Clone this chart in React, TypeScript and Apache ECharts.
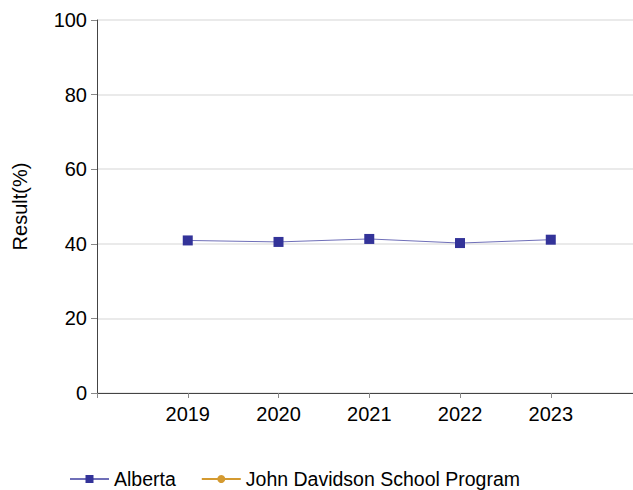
import React, { useEffect, useRef } from "react";
import * as echarts from "echarts";

const years = [2019, 2020, 2021, 2022, 2023];
const albertaValues = [40.9, 40.5, 41.3, 40.2, 41.1];
const schoolValues: (number | null)[] = [null, null, null, null, null];
const yTicks = [0, 20, 40, 60, 80, 100];

export default function App() {
  const ref = useRef<HTMLDivElement>(null);
  useEffect(() => {
    if (!ref.current) return;
    const chart = echarts.init(ref.current, undefined, { renderer: "svg" });
    const font = "Liberation Sans, Arial, sans-serif";
    chart.setOption({
      animation: false,
      textStyle: { fontFamily: font },
      grid: { left: 97, right: 0, top: 20, bottom: 97 },
      xAxis: {
        type: "value",
        min: 2018,
        max: 2023.906,
        interval: 1,
        splitLine: { show: false },
        axisLine: { lineStyle: { color: "#444", width: 1 } },
        axisTick: {
          show: true,
          length: 5,
          lineStyle: { color: "#888" },
          customValues: [2018, ...years],
        },
        axisLabel: {
          customValues: years,
          color: "#000",
          fontSize: 20,
          fontFamily: font,
          margin: 11,
          formatter: (v: number) => String(v),
        },
      },
      yAxis: {
        type: "value",
        min: 0,
        max: 100,
        interval: 20,
        name: "Result(%)",
        nameLocation: "middle",
        nameGap: 67,
        nameTextStyle: { color: "#000", fontSize: 20, fontFamily: font },
        axisLine: { show: true, lineStyle: { color: "#444", width: 1 } },
        axisTick: { show: true, length: 6, lineStyle: { color: "#888" } },
        axisLabel: {
          color: "#000",
          fontSize: 20,
          fontFamily: font,
          margin: 10,
          customValues: yTicks,
        },
        splitLine: { show: true, lineStyle: { color: "#e3e3e3", width: 1.5 } },
      },
      legend: {
        top: 464,
        left: 64,
        itemWidth: 39,
        itemHeight: 10,
        itemGap: 25,
        textStyle: { color: "#000", fontSize: 19.5, fontFamily: font },
        data: ["Alberta", "John Davidson School Program"],
      },
      series: [
        {
          name: "Alberta",
          type: "line",
          data: years.map((y, i) => [y, albertaValues[i]]),
          symbol: "rect",
          symbolSize: 10,
          itemStyle: { color: "#333399" },
          lineStyle: { color: "#6f6fb8", width: 1 },
        },
        {
          name: "John Davidson School Program",
          type: "line",
          data: years.map((y, i) => [y, schoolValues[i]]),
          symbol: "circle",
          symbolSize: 9,
          itemStyle: { color: "#d49a30" },
          lineStyle: { color: "#d49a30", width: 1 },
        },
      ],
    });
    return () => chart.dispose();
  }, []);
  return (
    <div
      ref={ref}
      style={{ width: 633, height: 490, position: "absolute", left: 0, top: 0 }}
    />
  );
}
